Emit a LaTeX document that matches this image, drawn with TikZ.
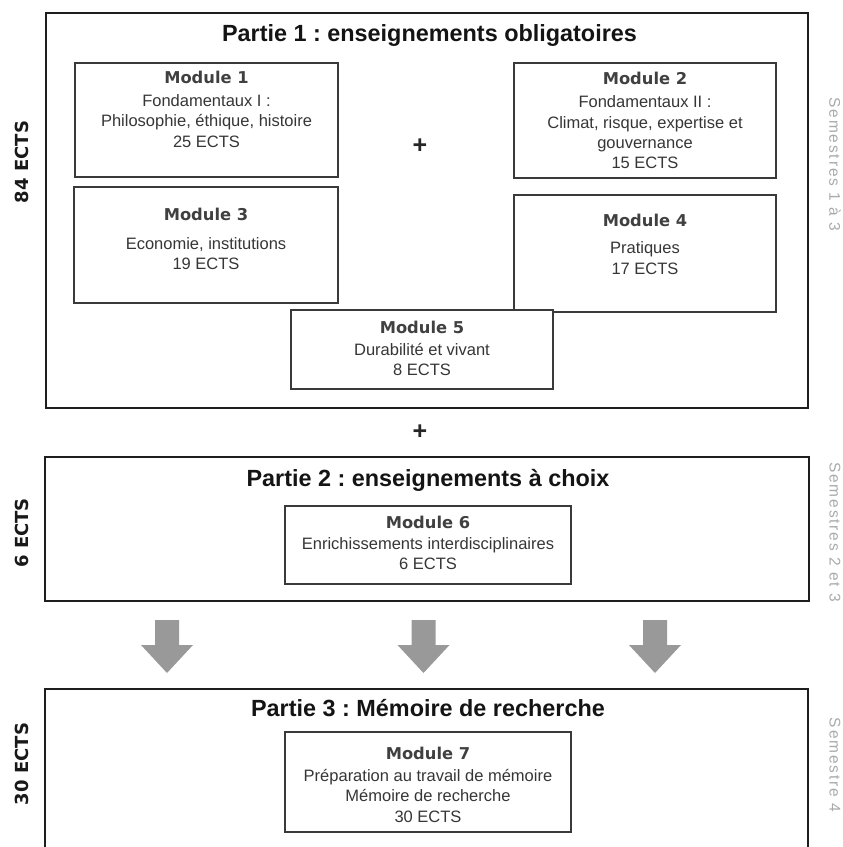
\documentclass[tikz,border=0pt]{standalone}
\usepackage{fontspec}
\setmainfont{Liberation Sans}
\newfontfamily\modfont{DejaVu Sans}
\newfontfamily\semfont[LetterSpace=12]{Liberation Sans}
\frenchspacing
\definecolor{partline}{HTML}{1E1E1E}
\definecolor{modline}{HTML}{3A3A3A}
\definecolor{modtxt}{HTML}{363636}
\definecolor{modttl}{HTML}{404040}
\definecolor{semgray}{HTML}{AAAAAA}
\definecolor{arrgray}{HTML}{999999}
\tikzset{
  partbox/.style={draw=partline, line width=1.8pt, fill=white, inner sep=0pt, outer sep=0pt},
  modbox/.style={draw=modline, line width=1.3pt, fill=white, inner sep=0pt, outer sep=0pt},
  parttitle/.style={font=\fontsize{23.4}{26}\selectfont\bfseries\frenchspacing, text=black!92, inner sep=0pt, anchor=base},
  modtitle/.style={font=\modfont\fontsize{16.3}{18}\selectfont\bfseries, text=modttl, inner sep=0pt, anchor=base},
  modtext/.style={font=\fontsize{16.5}{20.2}\selectfont\frenchspacing, text=modtxt, align=center, inner sep=0pt, anchor=center},
  sidelabel/.style={font=\modfont\fontsize{18}{20}\selectfont\bfseries, text=black!90, rotate=90, inner sep=0pt},
  semlabel/.style={font=\semfont\fontsize{15.5}{18}\selectfont, text=semgray, rotate=-90, inner sep=0pt},
  plussign/.style={font=\fontsize{25}{28}\selectfont\bfseries, text=black!85, inner sep=0pt},
  blockarrow/.style={fill=arrgray, draw=none}
}
\begin{document}
\begin{tikzpicture}[x=1pt,y=-1pt]
\useasboundingbox (0,0) rectangle (843,847);
\clip (0,0) rectangle (843,847);

% Partie 1
\node[partbox, minimum width=762pt, minimum height=395pt] (p1) at (427,210.5) {};
\node[parttitle] (p1t) at (429.5,41.5) {Partie 1 : enseignements obligatoires};

\node[modbox, minimum width=263pt, minimum height=114pt] (m1) at (206.5,120) {};
\node[modtitle] (m1t) at (206.5,83.5) {Module 1};
\node[modtext] (m1b) at (206.5,121) {Fondamentaux I :\\Philosophie, éthique, histoire\\25 ECTS};

\node[modbox, minimum width=262pt, minimum height=115pt] (m2) at (645,120.5) {};
\node[modtitle] (m2t) at (645,84.5) {Module 2};
\node[modtext] (m2b) at (645,132.3) {Fondamentaux II :\\Climat, risque, expertise et\\gouvernance\\15 ECTS};

\node[modbox, minimum width=264pt, minimum height=116pt] (m3) at (206,245) {};
\node[modtitle] (m3t) at (206,220) {Module 3};
\node[modtext] (m3b) at (206,253.3) {Economie, institutions\\19 ECTS};

\node[modbox, minimum width=262pt, minimum height=117pt] (m4) at (645,253.5) {};
\node[modtitle] (m4t) at (645,226.5) {Module 4};
\node[modtext] (m4b) at (645,258) {Pratiques\\17 ECTS};

\node[modbox, minimum width=262pt, minimum height=79pt] (m5) at (422,349.5) {};
\node[modtitle] (m5t) at (422,333) {Module 5};
\node[modtext] (m5b) at (422,359.2) {Durabilité et vivant\\8 ECTS};

\node[plussign] (plus1) at (420,146) {+};
\node[plussign] (plus2) at (420,432) {+};

% Partie 2
\node[partbox, minimum width=764pt, minimum height=144pt] (p2) at (427,529) {};
\node[parttitle] (p2t) at (428,486) {Partie 2 : enseignements à choix};
\node[modbox, minimum width=286pt, minimum height=78pt] (m6) at (428,545) {};
\node[modtitle] (m6t) at (428,528) {Module 6};
\node[modtext] (m6b) at (428,553.8) {Enrichissements interdisciplinaires\\6 ECTS};

% Arrows
\foreach \n/\cx in {a1/167, a2/423.5, a3/655}{
  \coordinate (\n) at (\cx,620);
  \fill[blockarrow] ([xshift=-12pt]\n) -- ([xshift=12pt]\n) -- ([xshift=12pt,yshift=-25pt]\n)
    -- ([xshift=26pt,yshift=-25pt]\n) -- ([yshift=-53pt]\n) -- ([xshift=-26pt,yshift=-25pt]\n)
    -- ([xshift=-12pt,yshift=-25pt]\n) -- cycle;
}

% Partie 3
\node[partbox, minimum width=763pt, minimum height=211pt] (p3) at (426.5,794.5) {};
\node[parttitle] (p3t) at (428,716) {Partie 3 : Mémoire de recherche};
\node[modbox, minimum width=286pt, minimum height=100pt] (m7) at (428,782) {};
\node[modtitle] (m7t) at (428,759.5) {Module 7};
\node[modtext] (m7b) at (428,795.8) {Préparation au travail de mémoire\\Mémoire de recherche\\30 ECTS};

% Side labels
\node[sidelabel] (s1) at (22,162) {84 ECTS};
\node[sidelabel] (s2) at (22,533) {6 ECTS};
\node[sidelabel] (s3) at (22,764) {30 ECTS};

\node[semlabel] (r1) at (835,164) {Semestres 1 à 3};
\node[semlabel] (r2) at (835,532) {Semestres 2 et 3};
\node[semlabel] (r3) at (835,765) {Semestre 4};
\end{tikzpicture}
\end{document}
